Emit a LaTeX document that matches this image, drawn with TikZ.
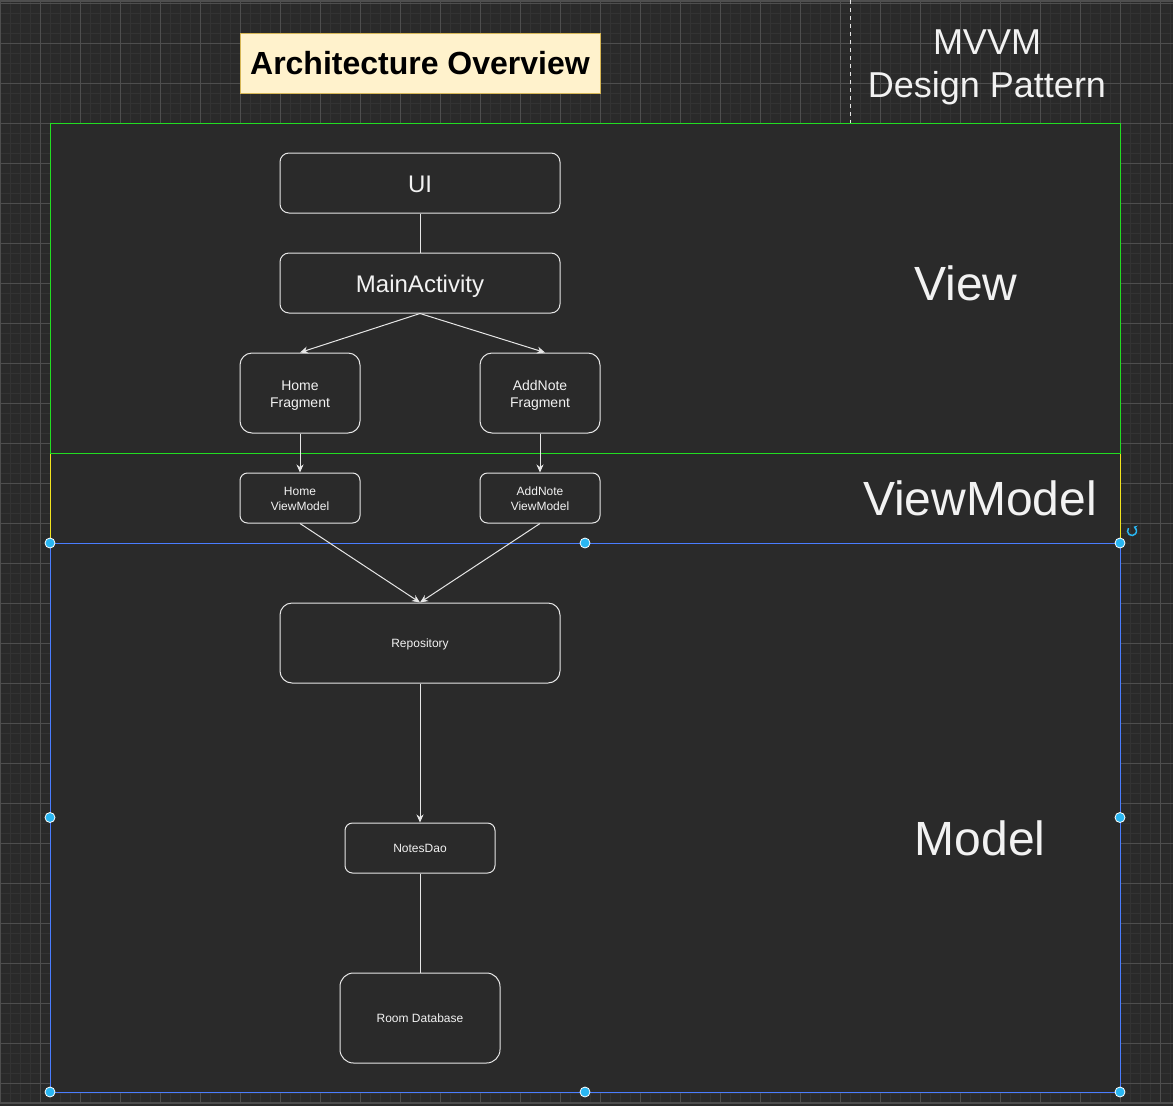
\documentclass[tikz,border=0pt]{standalone}
\usepackage{fontspec}
\setmainfont{Liberation Sans}
\usetikzlibrary{arrows.meta,calc}
\definecolor{bg}{HTML}{2A2A2A}
\definecolor{gridminor}{HTML}{333333}
\definecolor{gridmajor}{HTML}{4E4E4E}
\definecolor{linec}{HTML}{E6E6E6}
\definecolor{txt}{HTML}{F2F2F2}
\definecolor{titlefill}{HTML}{FFF2CC}
\definecolor{titledraw}{HTML}{D6B656}
\definecolor{viewgreen}{HTML}{22DD22}
\definecolor{vmyellow}{HTML}{F2E41E}
\definecolor{selblue}{HTML}{4A7DFF}
\definecolor{handle}{HTML}{29B6F2}
\tikzset{
  nbox/.style={draw=linec, line width=1pt, fill=bg, text=txt, rounded corners=#1, inner sep=0pt, align=center},
  nbox/.default=9pt,
  bigname/.style={font=\fontsize{24}{29}\selectfont, text height=19.2pt, text depth=0pt},
  fragname/.style={font=\fontsize{14}{17}\selectfont, text height=28pt, text depth=0pt},
  vmname/.style={font=\fontsize{12}{14.5}\selectfont, text height=24pt, text depth=0pt},
  smallname/.style={font=\fontsize{12}{15}\selectfont, text height=8.6pt, text depth=0.4pt},
  region/.style={fill=bg, line width=1pt, inner sep=0pt, minimum width=1070pt},
  conn/.style={draw=linec, line width=1pt},
  arr/.style={conn, -{Stealth[length=8pt,width=7pt,inset=2.5pt]}},
  bigtxt/.style={text=txt, inner sep=0pt, font=\fontsize{48}{58}\selectfont},
  hdl/.style={circle, fill=handle, draw=white, line width=0.8pt, minimum size=10pt, inner sep=0pt}
}
\begin{document}
\begin{tikzpicture}[x=1pt,y=-1pt]
\useasboundingbox (0,0) rectangle (1173,1106);
\fill[bg] (0,0) rectangle (1173,1106);
% grid
\foreach \k in {0,...,117} \draw[gridminor, line width=0.8pt] ({10*\k},0) -- ({10*\k},1103);
\foreach \k in {0,...,110} \draw[gridminor, line width=0.8pt] (0,{3+10*\k}) -- (1173,{3+10*\k});
\foreach \k in {0,...,29} \draw[gridmajor, line width=0.9pt] ({40*\k},0) -- ({40*\k},1103);
\foreach \k in {0,...,27} \draw[gridmajor, line width=0.9pt] (0,{3+40*\k}) -- (1173,{3+40*\k});
\draw[gridmajor, line width=1.2pt] (0,1) -- (1173,1);
\draw[gridmajor, line width=1.5pt] (0,1103) -- (1173,1103);

% dashed divider
\coordinate (d1) at (850,0);
\coordinate (d2) at (850,123);
\draw[linec, line width=1pt, dash pattern=on 4pt off 4pt] (d1) -- (d2);

% title
\node[draw=titledraw, fill=titlefill, line width=1pt, minimum width=360pt, minimum height=60pt, inner sep=0pt,
      font=\bfseries\fontsize{32}{38}\selectfont, text=black] (title) at (420,63) {Architecture Overview};
\node[text=txt, align=center, inner sep=0pt, font=\fontsize{36}{43}\selectfont] (mvvm) at (987,67.5) {MVVM\\Design Pattern};

% regions
\node[region, draw=vmyellow, minimum height=90pt] (vmc) at (585,498) {};
\node[region, draw=selblue, minimum height=549pt] (modelc) at (585,817.5) {};
\node[region, draw=viewgreen, minimum height=330pt] (viewc) at (585,288) {};

\node[bigtxt] (viewlbl) at (966,283) {View};
\node[bigtxt] (vmlbl) at (980,498) {ViewModel};
\node[bigtxt] (modellbl) at (980,838) {Model};

% nodes
\node[nbox=9pt, minimum width=280pt, minimum height=60pt, bigname] (ui) at (420,183) {UI};
\node[nbox=9pt, minimum width=280pt, minimum height=60pt, bigname] (ma) at (420,283) {MainActivity};
\node[nbox=12pt, minimum width=120pt, minimum height=80pt, fragname] (hf) at (300,393) {Home\\Fragment};
\node[nbox=12pt, minimum width=120pt, minimum height=80pt, fragname] (af) at (540,393) {AddNote\\Fragment};
\node[nbox=7.5pt, minimum width=120pt, minimum height=50pt, vmname] (hvm) at (300,498) {Home\\ViewModel};
\node[nbox=7.5pt, minimum width=120pt, minimum height=50pt, vmname] (avm) at (540,498) {AddNote\\ViewModel};
\node[nbox=12pt, minimum width=280pt, minimum height=80pt, smallname] (repo) at (420,643) {Repository};
\node[nbox=7.5pt, minimum width=150pt, minimum height=50pt, smallname] (dao) at (420,848) {NotesDao};
\node[nbox=13.5pt, minimum width=160pt, minimum height=90pt, smallname] (room) at (420,1018) {Room Database};

% connectors
\draw[conn] (ui) -- (ma);
\draw[arr] (ma.south) -- (hf.north);
\draw[arr] (ma.south) -- ([xshift=5pt]af.north);
\draw[arr] (hf) -- (hvm);
\draw[arr] (af) -- (avm);
\draw[arr] (hvm.south) -- (repo.north);
\draw[arr] (avm.south) -- (repo.north);
\draw[arr] (repo) -- (dao);
\draw[conn] (dao) -- (room);

% selection handles
\node[hdl] (h1) at (50,543) {};
\node[hdl] (h2) at (585,543) {};
\node[hdl] (h3) at (1120,543) {};
\node[hdl] (h4) at (50,817.5) {};
\node[hdl] (h5) at (1120,817.5) {};
\node[hdl] (h6) at (50,1092) {};
\node[hdl] (h7) at (585,1092) {};
\node[hdl] (h8) at (1120,1092) {};
% rotation icon
\coordinate (rot) at (1132,531);
\draw[handle, line width=1.5pt, -{Stealth[length=3.5pt,width=5pt]}] (rot) ++(-140:4.5) arc[start angle=-140, end angle=-430, radius=4.5];
\end{tikzpicture}
\end{document}
